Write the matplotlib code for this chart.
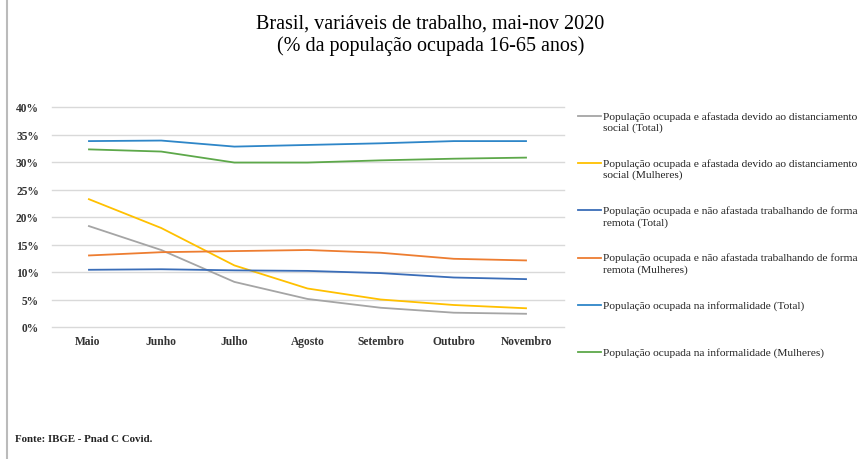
import matplotlib
matplotlib.use("Agg")
import matplotlib.pyplot as plt
from matplotlib.lines import Line2D
from matplotlib.ticker import FuncFormatter, MultipleLocator

months = ["Maio", "Junho", "Julho", "Agosto", "Setembro", "Outubro", "Novembro"]

afastada_total = [18.4, 14.0, 8.2, 5.1, 3.5, 2.6, 2.4]
afastada_mulheres = [23.3, 18.0, 11.2, 7.0, 5.0, 4.0, 3.4]
remota_total = [10.4, 10.5, 10.3, 10.2, 9.8, 9.0, 8.7]
remota_mulheres = [13.0, 13.6, 13.8, 14.0, 13.5, 12.4, 12.1]
informal_total = [33.8, 33.9, 32.8, 33.1, 33.4, 33.8, 33.8]
informal_mulheres = [32.3, 31.9, 29.9, 29.9, 30.3, 30.6, 30.8]

labels = [
    "População ocupada e afastada devido ao distanciamento\nsocial (Total)",
    "População ocupada e afastada devido ao distanciamento\nsocial (Mulheres)",
    "População ocupada e não afastada trabalhando de forma\nremota (Total)",
    "População ocupada e não afastada trabalhando de forma\nremota (Mulheres)",
    "População ocupada na informalidade (Total)",
    "População ocupada na informalidade (Mulheres)",
]
series = [afastada_total, afastada_mulheres, remota_total, remota_mulheres,
          informal_total, informal_mulheres]
colors = ["#A5A5A5", "#FFC000", "#3A6DB8", "#ED7D31", "#2E86C8", "#5DA84A"]

plt.rcParams["font.family"] = ["Liberation Serif", "DejaVu Serif"]

fig = plt.figure(figsize=(8.64, 4.6), dpi=100)
ax = fig.add_axes([51.5 / 864, 1 - 328 / 460, (563.5 - 51.5) / 864, 220 / 460])

x = list(range(len(months)))
for vals, c in zip(series, colors):
    ax.plot(x, [v / 100 for v in vals], color=c, lw=1.3, solid_capstyle="butt")

ax.set_xlim(-0.5, len(months) - 0.5)
ax.set_ylim(0, 0.40)
ax.yaxis.set_major_locator(MultipleLocator(0.05))
ax.yaxis.set_major_formatter(FuncFormatter(lambda v, p: f"{v*100:.0f}%"))
ax.set_xticks(x)
ax.set_xticklabels(months)
for s in ax.spines.values():
    s.set_visible(False)
ax.grid(axis="y", color="#D9D9D9", lw=1)
for gl in ax.get_ygridlines():
    gl.set_clip_on(False)
ax.set_axisbelow(True)
ax.tick_params(axis="both", length=0, labelsize=8.3, colors="#333333")
ax.tick_params(axis="y", pad=9)
ax.tick_params(axis="x", pad=6)
for t in ax.get_xticklabels() + ax.get_yticklabels():
    t.set_fontweight("bold")

fig.text(0.498, 1 - 24 / 460, "Brasil, variáveis de trabalho, mai-nov 2020",
         ha="center", va="center", fontsize=14.5)
fig.text(0.498, 1 - 46 / 460, "(% da população ocupada 16-65 anos)",
         ha="center", va="center", fontsize=14.5)

# legend
for i, (lab, c) in enumerate(zip(labels, colors)):
    yy = 1 - (117 + i * 47.2) / 460
    fig.add_artist(Line2D([578 / 864, 601 / 864], [yy, yy], color=c, lw=1.3,
                          transform=fig.transFigure))
    fig.text(603 / 864, yy + 5 / 460, lab, ha="left", va="top", fontsize=8.2,
             linespacing=1.25, color="#222222")

fig.text(15 / 864, 1 - 440 / 460, "Fonte: IBGE - Pnad C Covid.", ha="left",
         va="center", fontsize=7.8, fontweight="bold", color="#222222")

fig.add_artist(Line2D([7 / 864, 7 / 864], [0, 1], color="#BBBBBB", lw=1.5,
                      transform=fig.transFigure))

fig.savefig("out.png", dpi=100)
